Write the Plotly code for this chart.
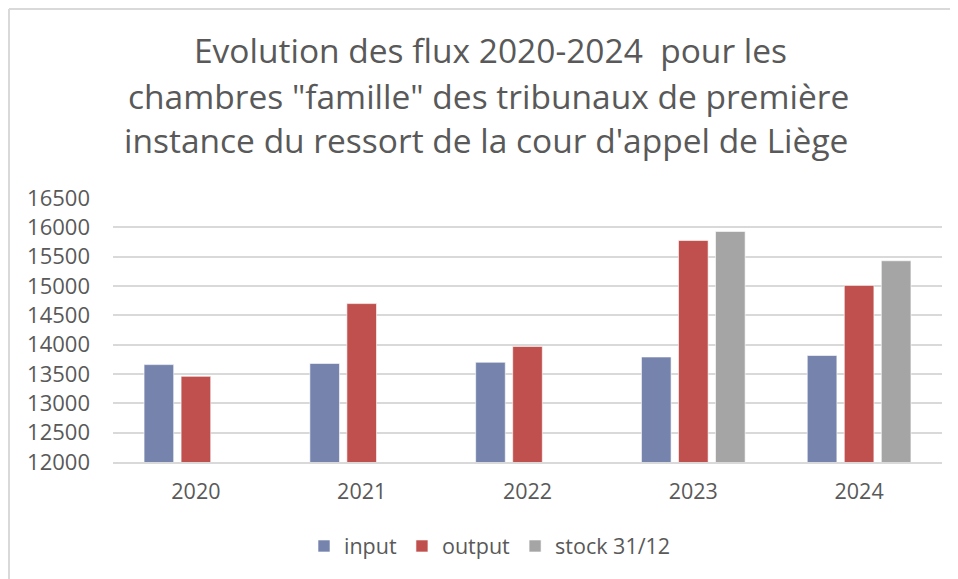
import plotly.graph_objects as go

years = ["2020", "2021", "2022", "2023", "2024"]
input_vals = [13660, 13680, 13700, 13790, 13815]
output_vals = [13460, 14700, 13970, 15775, 15010]
stock_vals = [None, None, None, 15930, 15430]
y_ticks = [12000, 12500, 13000, 13500, 14000, 14500, 15000, 15500, 16000, 16500]

title_lines = [
    "Evolution des flux 2020-2024  pour les",
    "chambres \"famille\" des tribunaux de première",
    "instance du ressort de la cour d'appel de Liège",
]

# page body has an 8px margin, so the figure is drawn 8px in from the corner
OFF = 8
W, H = 958 - OFF, 579 - OFF
L, R, T, B = 105, 16, 190, 117
PW, PH = W - L - R, H - T - B

def px(x):  # x in reference-screen pixels -> paper
    return (x - OFF - L) / PW

def py(y):
    return (H - B - (y - OFF)) / PH

FONT = "Open Sans"
TXT = "#595959"

fig = go.Figure()
fig.add_bar(name="input", x=years, y=input_vals, marker=dict(color="#7683AD", line=dict(color="#FFFFFF", width=0.6)))
fig.add_bar(name="output", x=years, y=output_vals, marker=dict(color="#C0504D", line=dict(color="#FFFFFF", width=0.6)))
fig.add_bar(name="stock 31/12", x=years, y=stock_vals, marker=dict(color="#A5A5A5", line=dict(color="#FFFFFF", width=0.6)))

annotations = []
for line, yc, xc in zip(title_lines, [50, 96, 140], [490, 488, 486]):
    annotations.append(dict(text=line, x=px(xc), y=py(yc), xref="paper", yref="paper",
                            xanchor="center", yanchor="middle", showarrow=False,
                            font=dict(family=FONT, size=33.5, color=TXT)))

shapes = [
    dict(type="line", xref="paper", yref="paper", x0=px(9), x1=px(958), y0=py(9), y1=py(9),
         line=dict(color="#D9D9D9", width=2)),
    dict(type="line", xref="paper", yref="paper", x0=px(9), x1=px(9), y0=py(9), y1=py(579),
         line=dict(color="#D9D9D9", width=2)),
]

fig.update_layout(
    width=W, height=H,
    margin=dict(l=L, r=R, t=T, b=B, pad=0),
    paper_bgcolor="white", plot_bgcolor="white",
    barmode="group", bargap=0.33, bargroupgap=0.2,
    font=dict(family=FONT, color=TXT, size=20),
    annotations=annotations, shapes=shapes,
    showlegend=True,
    legend=dict(orientation="h", x=px(490), xanchor="center", y=py(546), yanchor="middle",
                font=dict(family=FONT, size=21.5, color=TXT), itemwidth=30, traceorder="normal"),
    xaxis=dict(showgrid=False, showline=True, linecolor="#D9D9D9", linewidth=1.5,
               ticks="", tickfont=dict(family=FONT, size=21.5, color=TXT), ticklabelstandoff=9),
    yaxis=dict(range=[12000, 16500], tickvals=y_ticks, ticktext=[str(v) for v in y_ticks],
               showgrid=True, gridcolor="#D9D9D9", gridwidth=1.5, zeroline=False,
               showline=False, ticks="", ticklabelstandoff=22,
               tickfont=dict(family=FONT, size=22, color=TXT)),
)

fig.write_html("out.html")
